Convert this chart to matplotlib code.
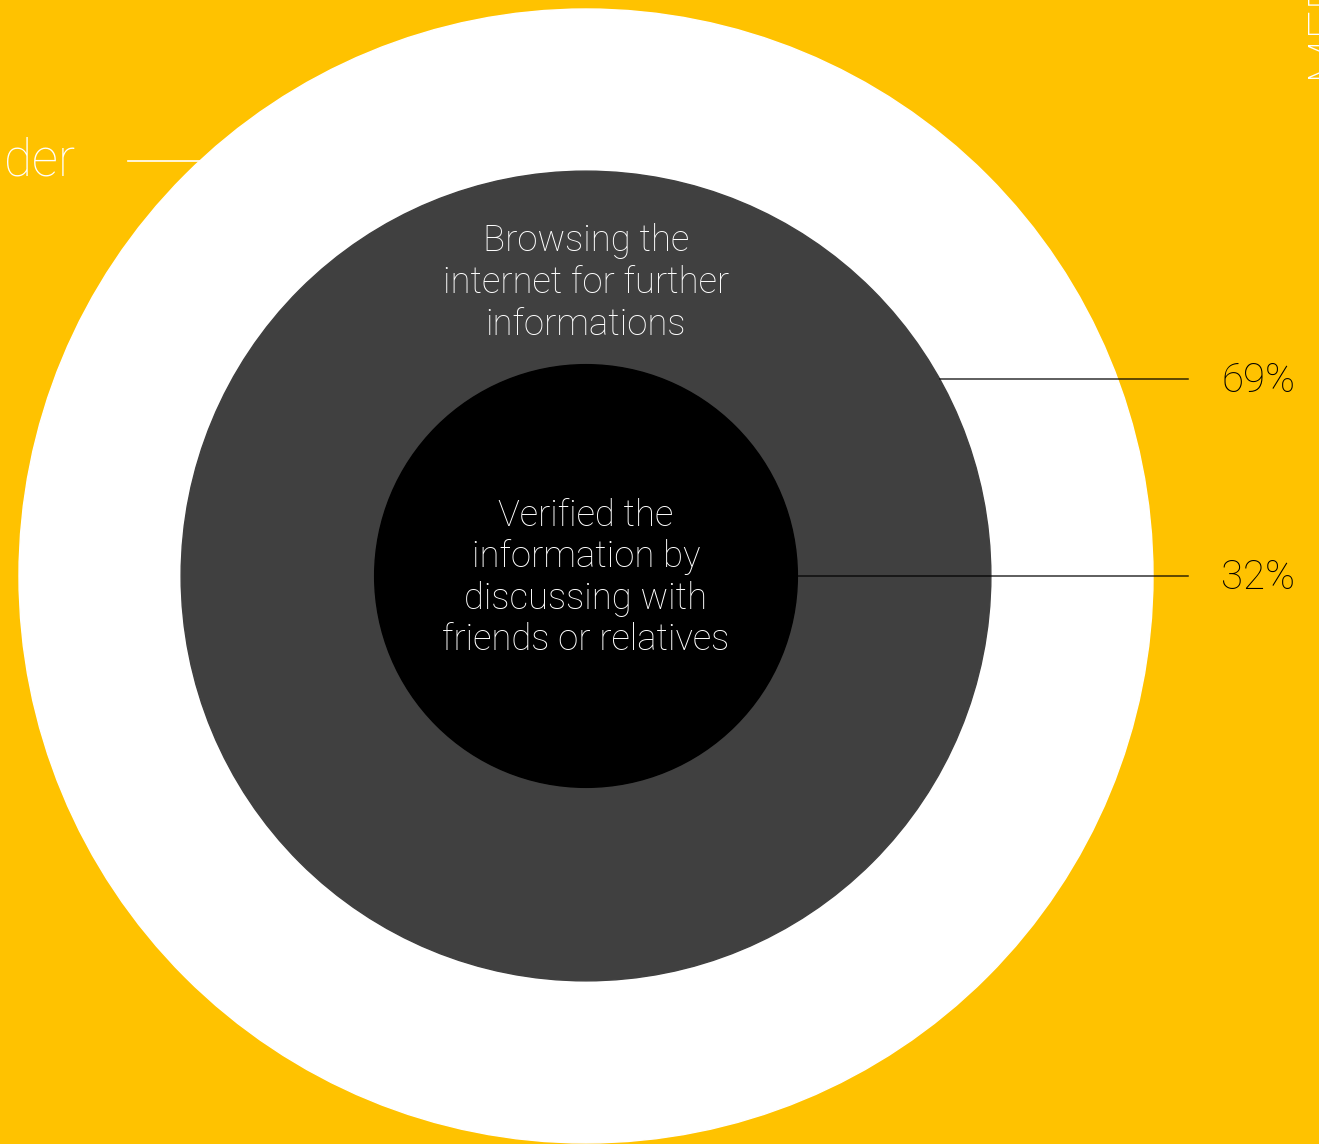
import matplotlib.pyplot as plt
from matplotlib.patches import Circle
import numpy as np

plt.rcParams['font.family'] = ['Roboto', 'Lato', 'DejaVu Sans']
plt.rcParams['font.weight'] = 'light'

# share of respondents per ring, outermost first
levels = [100, 69, 32]
ring_labels = [
    '',
    'Browsing the\ninternet for further\ninformations',
    'Verified the\ninformation by\ndiscussing with\nfriends or relatives',
]
pct_labels = ['', '69%', '32%']
ring_colors = ['white', '#404040', 'black']

BG = '#FFC200'
W, H = 1319, 1144
CX, CY = 586, 576


def radius(v):
    # linear scale with a small offset so the centre ring stays readable
    return 44 + 5.23 * v


fig = plt.figure(figsize=(W / 100, H / 100), dpi=100, facecolor=BG)
ax = fig.add_axes([0, 0, 1, 1])
ax.set_xlim(0, W)
ax.set_ylim(H, 0)
ax.set_aspect('equal')
ax.axis('off')
ax.set_facecolor(BG)

for v, c in zip(levels, ring_colors):
    ax.add_patch(Circle((CX, CY), radius(v), color=c, zorder=1))

# callout lines from each inner ring to its percentage
label_y = {69: 379, 32: 576}
for v, lab in zip(levels[1:], pct_labels[1:]):
    y = label_y[v]
    r = radius(v)
    x0 = CX + np.sqrt(max(r ** 2 - (y - CY) ** 2, 0))
    ax.plot([x0, 1188], [y, y], color='black', lw=1.1, alpha=0.8, zorder=3)
    ax.text(1258, y + 2, lab, ha='center', va='center', fontsize=29,
            color='black', zorder=4)

ax.text(CX, 283, ring_labels[1], ha='center', va='center', fontsize=26.3,
        color='white', linespacing=1.2, zorder=4)
ax.text(CX, 578, ring_labels[2], ha='center', va='center', fontsize=26.3,
        color='white', linespacing=1.2, zorder=4)

# cut-off labels from the neighbouring panels
ax.text(4, 162, 'der', ha='left', va='center', fontsize=37,
        color='white', zorder=4)
ax.plot([128, 200], [161, 161], color='white', lw=1.2, zorder=0.5)
ax.text(1302, 78, 'MEDIA', rotation=90, ha='left', va='bottom', fontsize=37,
        color='white', zorder=4)

fig.savefig('out.png', dpi=100, facecolor=BG)
